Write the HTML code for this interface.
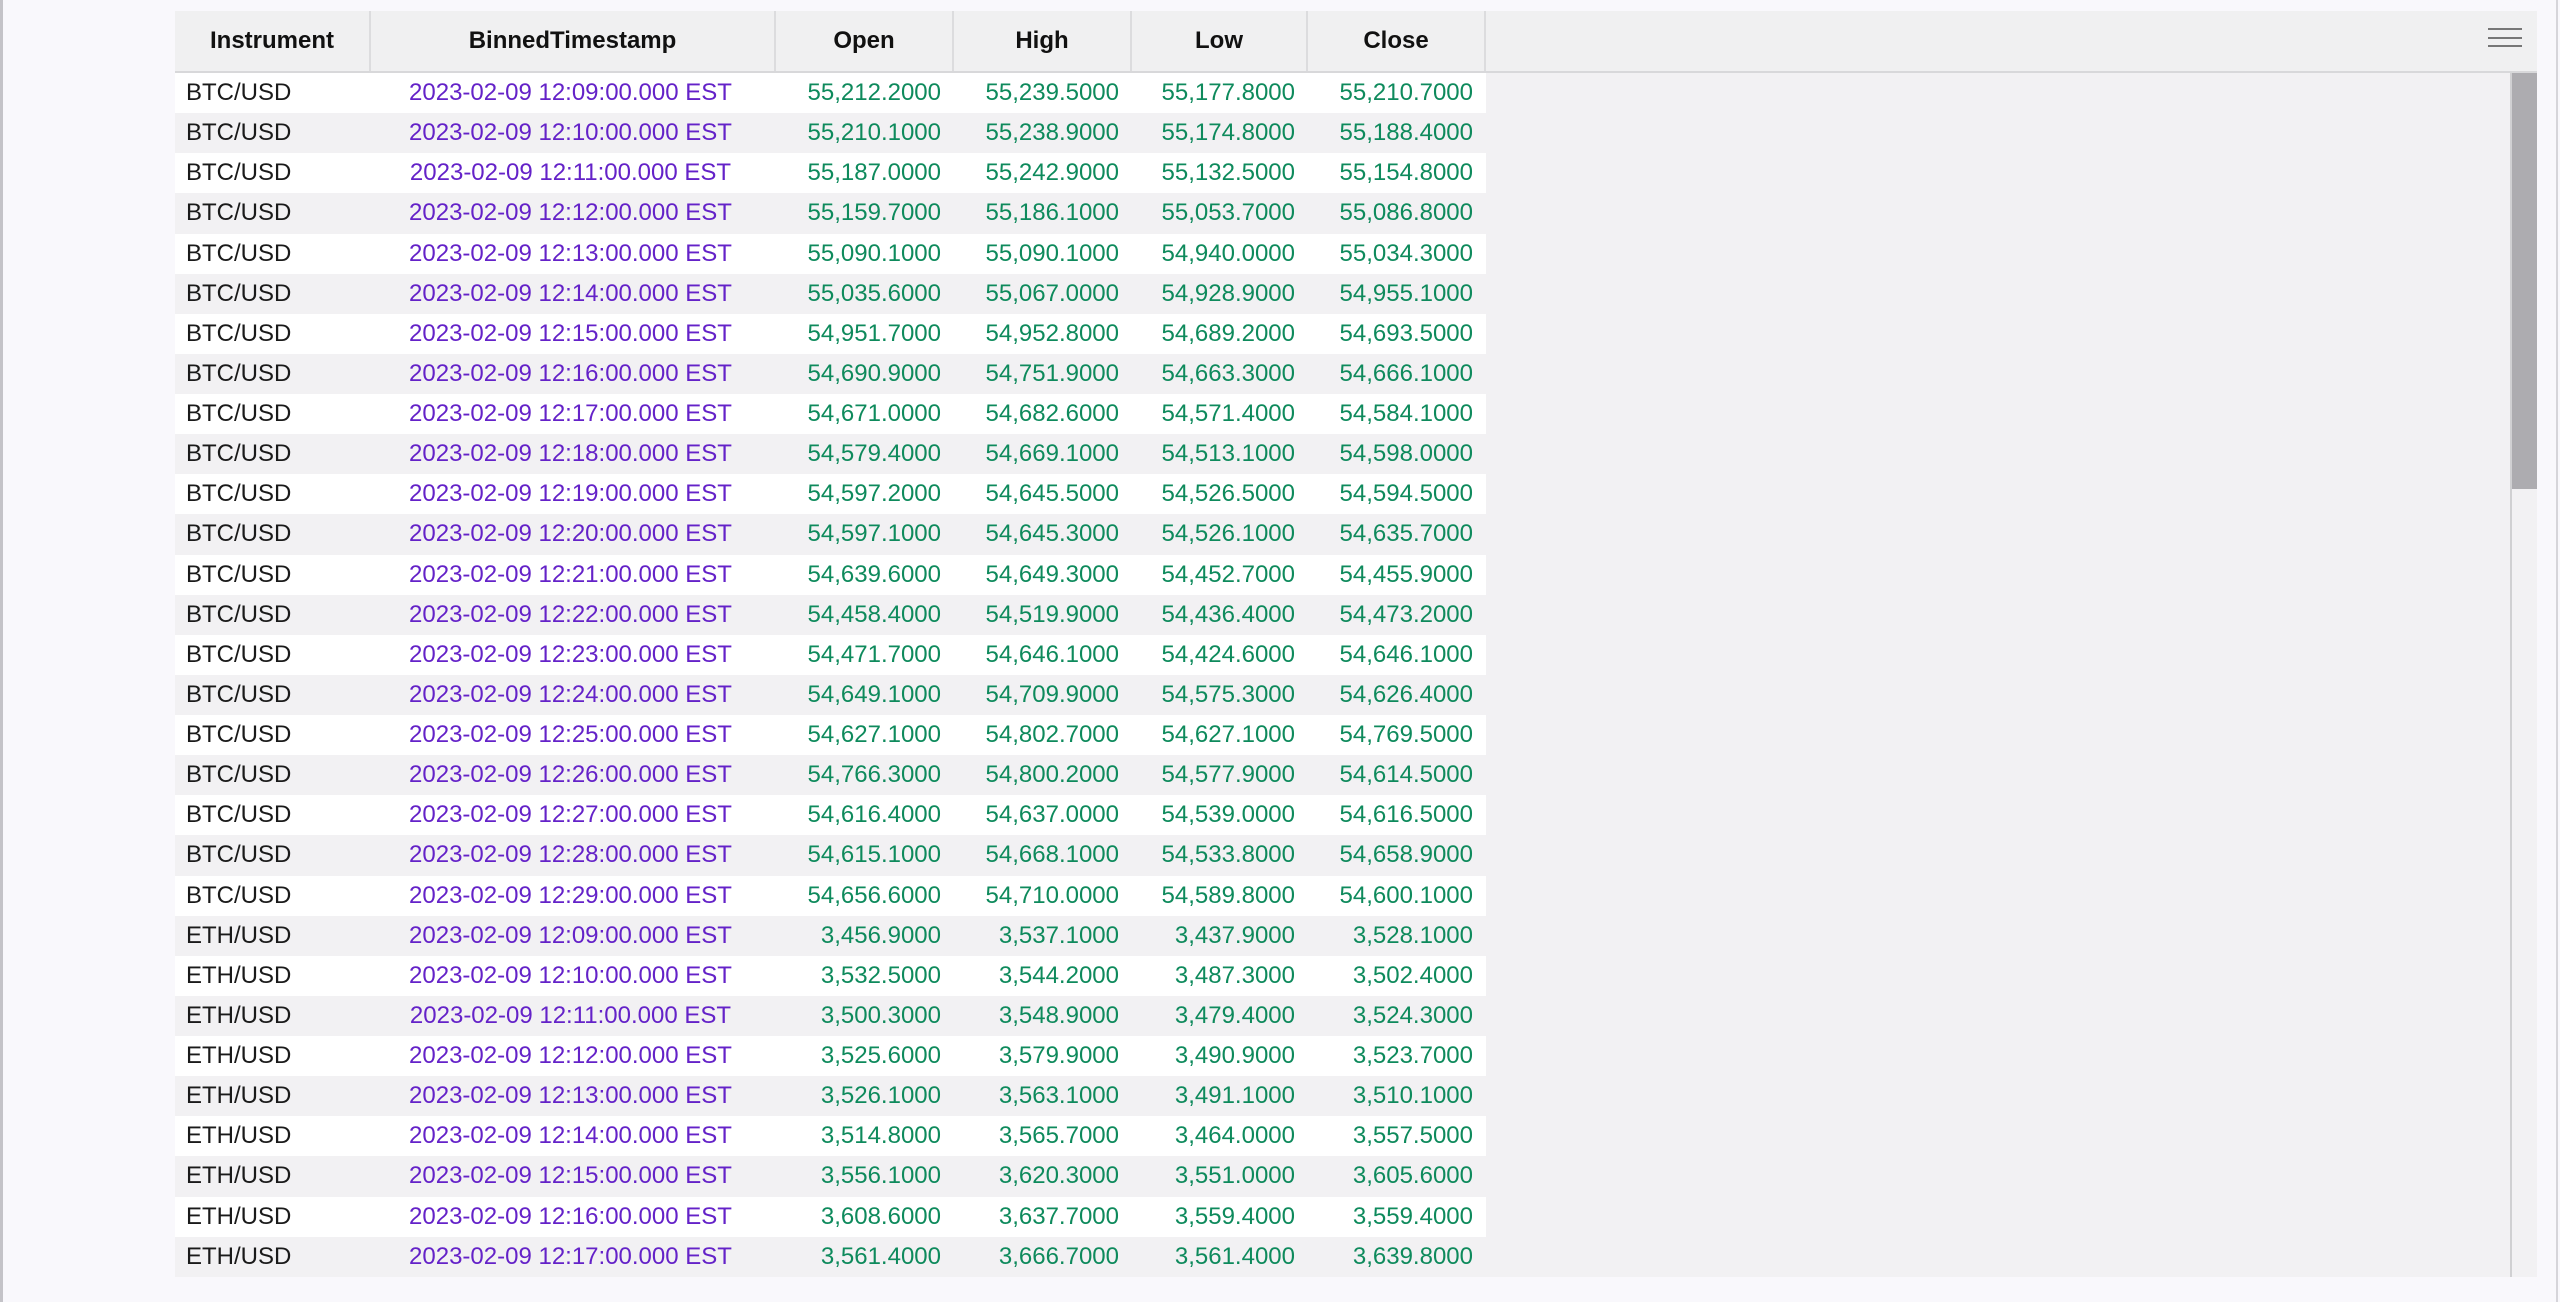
<!DOCTYPE html>
<html><head><meta charset="utf-8"><style>
*{margin:0;padding:0;box-sizing:border-box}
body{width:2560px;height:1302px;background:#f9f8fc;position:relative;overflow:hidden;font-family:"Liberation Sans",sans-serif;font-size:24px}
.lb{position:absolute;left:0;top:0;width:3px;height:1302px;background:#c4c3c8}
.rb{position:absolute;left:2556px;top:0;width:2px;height:1302px;background:#d6d5da}
.hdr{position:absolute;left:175px;top:11px;width:2362px;height:62px;background:#f0f0f1;border-bottom:2px solid #d8d8da;display:flex}
.hdr div{height:60px;line-height:60px;text-align:center;font-weight:bold;color:#111;border-right:2px solid #dcdcde}
.area{position:absolute;left:1486px;top:73px;width:1024px;height:1204px;background:#f2f1f3}
.sb{position:absolute;left:2510px;top:73px;width:27px;height:1204px;background:#f2f1f3;border-left:2px solid #d0d0d2}
.th{position:absolute;left:2512px;top:73px;width:25px;height:416px;background:#adacb0}
.ham{position:absolute;left:2488px;width:34px;height:2px;background:#777}
#rows{position:absolute;left:175px;top:73px;width:1311px}
.r{display:flex;height:40.13px;line-height:40px;background:#fff}
.r:nth-child(even){background:#f2f1f3}
.c0{width:196px;padding-left:11px;color:#1a1a1a}
.c1{width:405px;text-align:center;color:#6422c8;padding-right:6px}
.n{text-align:right;padding-right:13px;color:#0e8a5c}
.c2,.c3,.c5{width:178px}.c4{width:176px}
</style></head><body>
<div class="lb"></div><div class="rb"></div>
<div class="hdr"><div style="width:196px">Instrument</div><div style="width:405px">BinnedTimestamp</div><div style="width:178px">Open</div><div style="width:178px">High</div><div style="width:176px">Low</div><div style="width:178px">Close</div></div>
<div class="ham" style="top:28px"></div><div class="ham" style="top:37px"></div><div class="ham" style="top:45px"></div>
<div class="area"></div><div class="sb"></div><div class="th"></div>
<div id="rows">
<div class="r"><div class="c0">BTC/USD</div><div class="c1">2023-02-09 12:09:00.000 EST</div><div class="n c2">55,212.2000</div><div class="n c3">55,239.5000</div><div class="n c4">55,177.8000</div><div class="n c5">55,210.7000</div></div>
<div class="r"><div class="c0">BTC/USD</div><div class="c1">2023-02-09 12:10:00.000 EST</div><div class="n c2">55,210.1000</div><div class="n c3">55,238.9000</div><div class="n c4">55,174.8000</div><div class="n c5">55,188.4000</div></div>
<div class="r"><div class="c0">BTC/USD</div><div class="c1">2023-02-09 12:11:00.000 EST</div><div class="n c2">55,187.0000</div><div class="n c3">55,242.9000</div><div class="n c4">55,132.5000</div><div class="n c5">55,154.8000</div></div>
<div class="r"><div class="c0">BTC/USD</div><div class="c1">2023-02-09 12:12:00.000 EST</div><div class="n c2">55,159.7000</div><div class="n c3">55,186.1000</div><div class="n c4">55,053.7000</div><div class="n c5">55,086.8000</div></div>
<div class="r"><div class="c0">BTC/USD</div><div class="c1">2023-02-09 12:13:00.000 EST</div><div class="n c2">55,090.1000</div><div class="n c3">55,090.1000</div><div class="n c4">54,940.0000</div><div class="n c5">55,034.3000</div></div>
<div class="r"><div class="c0">BTC/USD</div><div class="c1">2023-02-09 12:14:00.000 EST</div><div class="n c2">55,035.6000</div><div class="n c3">55,067.0000</div><div class="n c4">54,928.9000</div><div class="n c5">54,955.1000</div></div>
<div class="r"><div class="c0">BTC/USD</div><div class="c1">2023-02-09 12:15:00.000 EST</div><div class="n c2">54,951.7000</div><div class="n c3">54,952.8000</div><div class="n c4">54,689.2000</div><div class="n c5">54,693.5000</div></div>
<div class="r"><div class="c0">BTC/USD</div><div class="c1">2023-02-09 12:16:00.000 EST</div><div class="n c2">54,690.9000</div><div class="n c3">54,751.9000</div><div class="n c4">54,663.3000</div><div class="n c5">54,666.1000</div></div>
<div class="r"><div class="c0">BTC/USD</div><div class="c1">2023-02-09 12:17:00.000 EST</div><div class="n c2">54,671.0000</div><div class="n c3">54,682.6000</div><div class="n c4">54,571.4000</div><div class="n c5">54,584.1000</div></div>
<div class="r"><div class="c0">BTC/USD</div><div class="c1">2023-02-09 12:18:00.000 EST</div><div class="n c2">54,579.4000</div><div class="n c3">54,669.1000</div><div class="n c4">54,513.1000</div><div class="n c5">54,598.0000</div></div>
<div class="r"><div class="c0">BTC/USD</div><div class="c1">2023-02-09 12:19:00.000 EST</div><div class="n c2">54,597.2000</div><div class="n c3">54,645.5000</div><div class="n c4">54,526.5000</div><div class="n c5">54,594.5000</div></div>
<div class="r"><div class="c0">BTC/USD</div><div class="c1">2023-02-09 12:20:00.000 EST</div><div class="n c2">54,597.1000</div><div class="n c3">54,645.3000</div><div class="n c4">54,526.1000</div><div class="n c5">54,635.7000</div></div>
<div class="r"><div class="c0">BTC/USD</div><div class="c1">2023-02-09 12:21:00.000 EST</div><div class="n c2">54,639.6000</div><div class="n c3">54,649.3000</div><div class="n c4">54,452.7000</div><div class="n c5">54,455.9000</div></div>
<div class="r"><div class="c0">BTC/USD</div><div class="c1">2023-02-09 12:22:00.000 EST</div><div class="n c2">54,458.4000</div><div class="n c3">54,519.9000</div><div class="n c4">54,436.4000</div><div class="n c5">54,473.2000</div></div>
<div class="r"><div class="c0">BTC/USD</div><div class="c1">2023-02-09 12:23:00.000 EST</div><div class="n c2">54,471.7000</div><div class="n c3">54,646.1000</div><div class="n c4">54,424.6000</div><div class="n c5">54,646.1000</div></div>
<div class="r"><div class="c0">BTC/USD</div><div class="c1">2023-02-09 12:24:00.000 EST</div><div class="n c2">54,649.1000</div><div class="n c3">54,709.9000</div><div class="n c4">54,575.3000</div><div class="n c5">54,626.4000</div></div>
<div class="r"><div class="c0">BTC/USD</div><div class="c1">2023-02-09 12:25:00.000 EST</div><div class="n c2">54,627.1000</div><div class="n c3">54,802.7000</div><div class="n c4">54,627.1000</div><div class="n c5">54,769.5000</div></div>
<div class="r"><div class="c0">BTC/USD</div><div class="c1">2023-02-09 12:26:00.000 EST</div><div class="n c2">54,766.3000</div><div class="n c3">54,800.2000</div><div class="n c4">54,577.9000</div><div class="n c5">54,614.5000</div></div>
<div class="r"><div class="c0">BTC/USD</div><div class="c1">2023-02-09 12:27:00.000 EST</div><div class="n c2">54,616.4000</div><div class="n c3">54,637.0000</div><div class="n c4">54,539.0000</div><div class="n c5">54,616.5000</div></div>
<div class="r"><div class="c0">BTC/USD</div><div class="c1">2023-02-09 12:28:00.000 EST</div><div class="n c2">54,615.1000</div><div class="n c3">54,668.1000</div><div class="n c4">54,533.8000</div><div class="n c5">54,658.9000</div></div>
<div class="r"><div class="c0">BTC/USD</div><div class="c1">2023-02-09 12:29:00.000 EST</div><div class="n c2">54,656.6000</div><div class="n c3">54,710.0000</div><div class="n c4">54,589.8000</div><div class="n c5">54,600.1000</div></div>
<div class="r"><div class="c0">ETH/USD</div><div class="c1">2023-02-09 12:09:00.000 EST</div><div class="n c2">3,456.9000</div><div class="n c3">3,537.1000</div><div class="n c4">3,437.9000</div><div class="n c5">3,528.1000</div></div>
<div class="r"><div class="c0">ETH/USD</div><div class="c1">2023-02-09 12:10:00.000 EST</div><div class="n c2">3,532.5000</div><div class="n c3">3,544.2000</div><div class="n c4">3,487.3000</div><div class="n c5">3,502.4000</div></div>
<div class="r"><div class="c0">ETH/USD</div><div class="c1">2023-02-09 12:11:00.000 EST</div><div class="n c2">3,500.3000</div><div class="n c3">3,548.9000</div><div class="n c4">3,479.4000</div><div class="n c5">3,524.3000</div></div>
<div class="r"><div class="c0">ETH/USD</div><div class="c1">2023-02-09 12:12:00.000 EST</div><div class="n c2">3,525.6000</div><div class="n c3">3,579.9000</div><div class="n c4">3,490.9000</div><div class="n c5">3,523.7000</div></div>
<div class="r"><div class="c0">ETH/USD</div><div class="c1">2023-02-09 12:13:00.000 EST</div><div class="n c2">3,526.1000</div><div class="n c3">3,563.1000</div><div class="n c4">3,491.1000</div><div class="n c5">3,510.1000</div></div>
<div class="r"><div class="c0">ETH/USD</div><div class="c1">2023-02-09 12:14:00.000 EST</div><div class="n c2">3,514.8000</div><div class="n c3">3,565.7000</div><div class="n c4">3,464.0000</div><div class="n c5">3,557.5000</div></div>
<div class="r"><div class="c0">ETH/USD</div><div class="c1">2023-02-09 12:15:00.000 EST</div><div class="n c2">3,556.1000</div><div class="n c3">3,620.3000</div><div class="n c4">3,551.0000</div><div class="n c5">3,605.6000</div></div>
<div class="r"><div class="c0">ETH/USD</div><div class="c1">2023-02-09 12:16:00.000 EST</div><div class="n c2">3,608.6000</div><div class="n c3">3,637.7000</div><div class="n c4">3,559.4000</div><div class="n c5">3,559.4000</div></div>
<div class="r"><div class="c0">ETH/USD</div><div class="c1">2023-02-09 12:17:00.000 EST</div><div class="n c2">3,561.4000</div><div class="n c3">3,666.7000</div><div class="n c4">3,561.4000</div><div class="n c5">3,639.8000</div></div>
</div>
</body></html>
